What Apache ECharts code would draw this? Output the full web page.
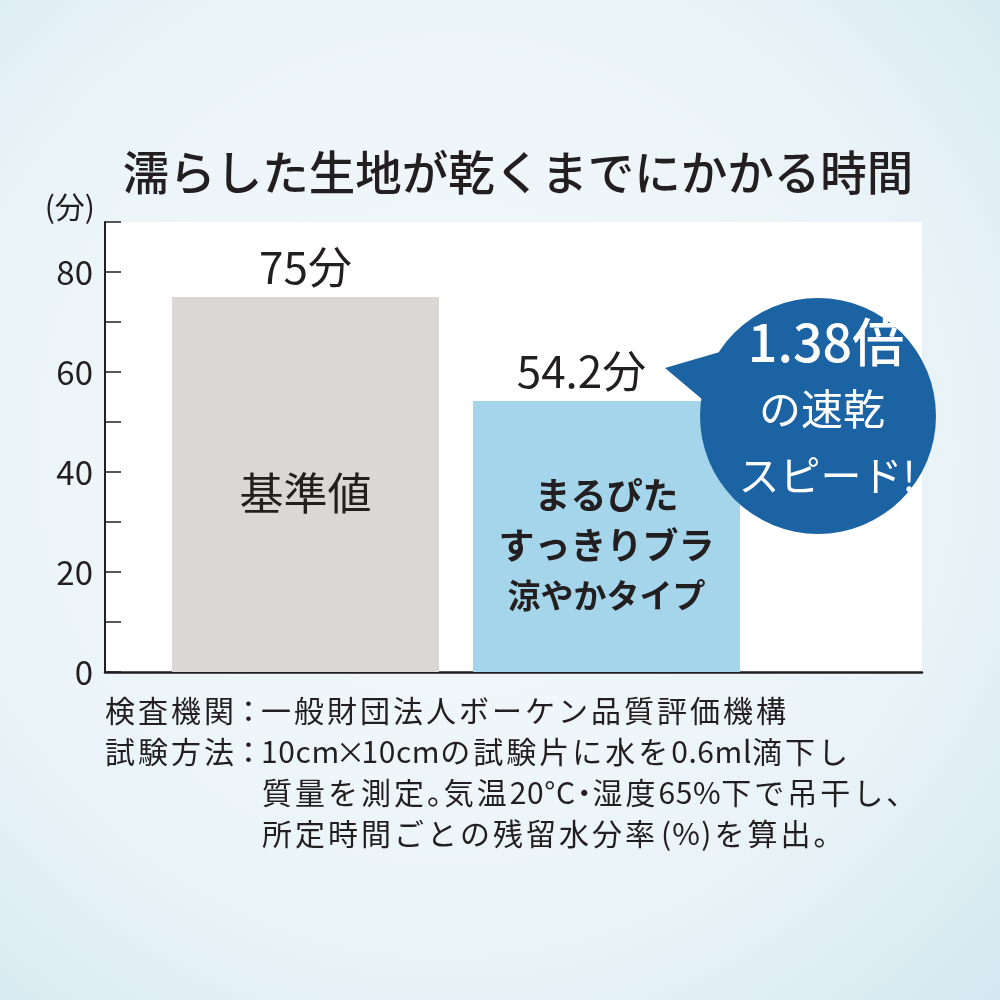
<!DOCTYPE html>
<html><head><meta charset="utf-8">
<script src="https://cdn.jsdelivr.net/npm/echarts@6/dist/echarts.min.js"></script>
<style>html,body{margin:0;padding:0;background:#eaf3f7;} #c{width:1000px;height:1000px;}</style>
</head><body><div id="c"></div>
<script>
// ---- data ----
const titleText = '濡らした生地が乾くまでにかかる時間';
const unitLabel = '(分)';
const unit = '分';
const categories = ['基準値', 'まるぴたすっきりブラ涼やかタイプ'];
const dryMinutes = [75, 54.2];
const innerLabelLines = [['基準値'], ['まるぴた', 'すっきりブラ', '涼やかタイプ']];
const yMin = 0, yMax = 90, yStep = 10, yLabelStep = 20;
const bubbleLines = ['倍', 'の速乾', 'スピード!'];
const noteLines = [
  '検査機関：一般財団法人ボーケン品質評価機構',
  '試験方法：10cm×10cmの試験片に水を0.6ml滴下し',
  '質量を測定。気温20°C・湿度65%下で吊干し、',
  '所定時間ごとの残留水分率(%)を算出。'
];

// ---- style ----
const FONT = '"Noto Sans CJK JP", "Noto Sans", sans-serif';
const INK = '#231f20';
const barColors = ['#dbd7d7', '#a5d5ea'];
const bubbleColor = '#1b63a3';

const ratio = (dryMinutes[0] / dryMinutes[1]).toFixed(2);

// per-character layout for footnotes (tracked text)
const measureCtx = document.createElement('canvas').getContext('2d');
function trackedLine(str, x0, y, size, track) {
  const font = '400 ' + size + 'px ' + FONT;
  measureCtx.font = font;
  const out = [];
  let x = x0;
  for (const ch of str) {
    const w = measureCtx.measureText(ch).width;
    let dx = 0, adv;
    if (ch === '。' || ch === '、') { adv = 0.56 * size; }
    else if (ch === '・') { dx = -0.22 * size; adv = 0.56 * size; }
    else if (ch === '：') { dx = -0.12 * size; adv = 0.8 * size; }
    else if (ch === '×') { dx = -0.14 * size; adv = 0.72 * size; }
    else if (ch === '(') { dx = 3; adv = w + 4; }
    else if (ch === ')') { dx = 1; adv = w + 4; }
    else if (ch.charCodeAt(0) < 0x2000) { adv = w + 0.6; }
    else { adv = w + track; }
    out.push({type: 'text', x: x + dx, y: y, silent: true,
      style: {text: ch, fill: INK, font: font, verticalAlign: 'middle', align: 'left'}});
    x += adv;
  }
  return out;
}

const chart = echarts.init(document.getElementById('c'), null, {renderer: 'canvas'});

const topLabelOffsets = [[0, 0], [-25, 0]];
const innerRich = [
  (lines) => lines.map(l => '{a|' + l + '}').join('\n'),
  (lines) => lines.map((l, i) => (i < 2 ? '{b|' : '{c|') + l + '}').join('\n')
];

const noteGraphics = [].concat(
  trackedLine(noteLines[0], 105, 711, 30, 3),
  trackedLine(noteLines[1], 105, 752, 30, 3),
  trackedLine(noteLines[2], 262, 793, 30, 3),
  trackedLine(noteLines[3], 262, 834, 30, 3)
);

const option = {
  backgroundColor: {
    type: 'radial', x: 0.45, y: 0.45, r: 0.85,
    colorStops: [
      {offset: 0, color: '#f6fafc'},
      {offset: 0.6, color: '#e9f3f7'},
      {offset: 1, color: '#cce5ee'}
    ]
  },
  animation: false,
  grid: [
    {left: 105, right: 78, top: 222, bottom: 328, show: true, backgroundColor: '#ffffff', borderWidth: 0, containLabel: false},
    {left: 155, right: 243, top: 222, bottom: 328, containLabel: false}
  ],
  xAxis: [
    {gridIndex: 0, type: 'category', data: [''], axisLine: {show: true, lineStyle: {color: INK, width: 2.5}},
     axisTick: {show: false}, axisLabel: {show: false}, splitLine: {show: false}},
    {gridIndex: 1, type: 'category', data: categories, show: false}
  ],
  yAxis: [
    {gridIndex: 0, type: 'value', min: yMin, max: yMax, interval: yStep,
     name: unitLabel, nameLocation: 'end', nameGap: 0,
     nameTextStyle: {fontFamily: FONT, fontSize: 30, color: INK, align: 'right', verticalAlign: 'bottom', padding: [0, 10, 0, 0]},
     axisLine: {show: true, lineStyle: {color: INK, width: 2}},
     axisTick: {show: true, inside: true, length: 16, lineStyle: {color: INK, width: 1.5}},
     axisLabel: {fontFamily: FONT, fontSize: 33, color: INK, margin: 12,
       formatter: v => (v % yLabelStep === 0 ? String(v) : '')},
     splitLine: {show: false}},
    {gridIndex: 1, type: 'value', min: yMin, max: yMax, interval: yStep, show: false}
  ],
  series: [
    {
      type: 'bar', xAxisIndex: 1, yAxisIndex: 1, barWidth: 267, barGap: '-100%',
      data: dryMinutes.map((v, i) => ({
        value: v,
        itemStyle: {color: barColors[i]},
        label: {offset: topLabelOffsets[i]}
      })),
      label: {show: true, position: 'top', distance: 8, formatter: p => p.value + unit,
        fontFamily: FONT, fontSize: 44, color: INK}
    },
    {
      type: 'bar', xAxisIndex: 1, yAxisIndex: 1, barWidth: 267, barGap: '-100%',
      silent: true,
      data: dryMinutes.map((v, i) => ({
        value: v,
        itemStyle: {color: 'rgba(0,0,0,0)'},
        label: {formatter: innerRich[i](innerLabelLines[i])}
      })),
      label: {show: true, position: 'inside', offset: [0, 9],
        rich: {
          a: {fontFamily: FONT, fontSize: 44, color: INK, lineHeight: 50},
          b: {fontFamily: FONT, fontSize: 36, fontWeight: 'bold', color: INK, lineHeight: 50},
          c: {fontFamily: FONT, fontSize: 33, fontWeight: 'bold', color: INK, lineHeight: 50}
        }}
    }
  ],
  graphic: [
    {type: 'text', x: 518, y: 172, silent: true, style: {text: titleText, fill: INK, font: '500 46.5px ' + FONT, align: 'center', verticalAlign: 'middle'}},
    {type: 'polygon', shape: {points: [[665, 368], [730, 349], [730, 400], [703, 400]]}, style: {fill: bubbleColor}, z: 10},
    {type: 'circle', shape: {cx: 818, cy: 416, r: 118}, style: {fill: bubbleColor}, z: 10},
    {type: 'text', x: 826, y: 342, z: 11, style: {text: ratio + bubbleLines[0], fill: '#fff', font: '500 52px ' + FONT, align: 'center', verticalAlign: 'middle'}},
    {type: 'text', x: 822, y: 409, z: 11, style: {text: bubbleLines[1], fill: '#fff', font: '400 42px ' + FONT, align: 'center', verticalAlign: 'middle'}},
    {type: 'text', x: 827, y: 475, z: 11, style: {text: bubbleLines[2], fill: '#fff', font: '400 41px ' + FONT, align: 'center', verticalAlign: 'middle'}}
  ].concat(noteGraphics)
};
chart.setOption(option);
</script>
</body></html>
